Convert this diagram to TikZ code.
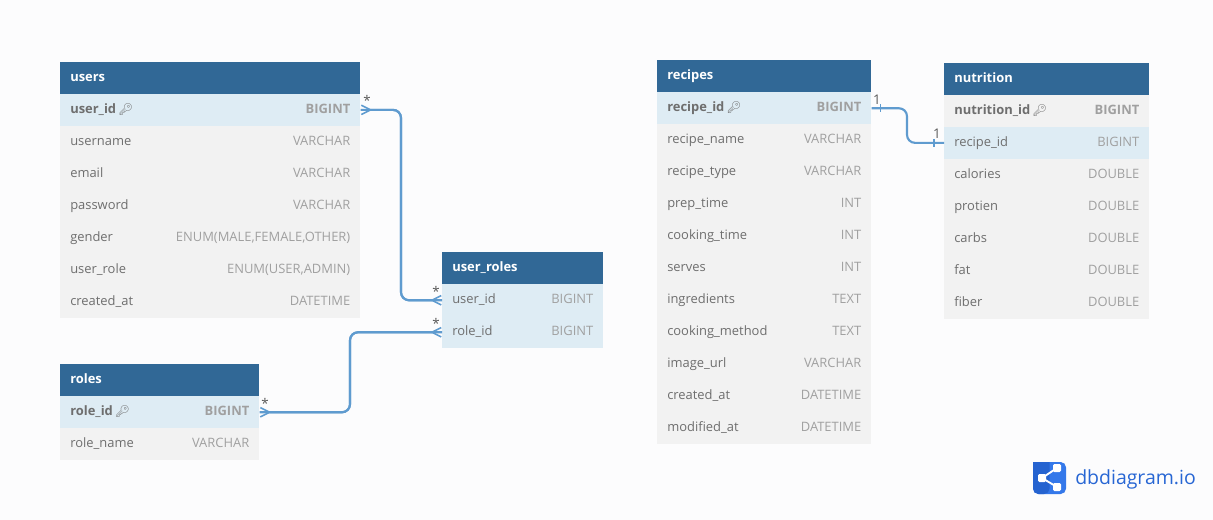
\documentclass[tikz,border=0pt]{standalone}
\usepackage{fontspec}
\usepackage{xcolor}
\usepackage{tikz}
\usetikzlibrary{arrows.meta,positioning,calc}
\setmainfont{Open Sans}
\newfontfamily\emojifont{Noto Emoji}
\definecolor{HeadBlue}{HTML}{316896}
\definecolor{RowBlue}{HTML}{DEECF4}
\definecolor{RowGray}{HTML}{F2F2F2}
\definecolor{NameGray}{HTML}{6E6E6E}
\definecolor{TypeGray}{HTML}{A0A0A0}
\definecolor{LinkBlue}{HTML}{5F9BCF}
\definecolor{PageWhite}{HTML}{FCFCFD}
\definecolor{LogoDark}{HTML}{2563D0}
\definecolor{LogoLight}{HTML}{3478EA}
\newcommand{\coltype}[1]{\hfill{\color{TypeGray}#1}}
\newcommand{\keyicon}{\,{\emojifont\fontsize{8.8}{10}\selectfont\symbol{"1F511}}}

\begin{document}
\begin{tikzpicture}[
  x=0.75pt, y=-0.75pt,
  tablehead/.style={rectangle, anchor=north west, fill=HeadBlue, text=white, inner xsep=7.5pt, inner ysep=0pt, minimum width=#1*0.75pt, minimum height=24pt, text width=#1*0.75pt-15pt, text height=7pt, text depth=2pt, font=\fontsize{9.7}{11}\selectfont\bfseries},
  rowgray/.style={rectangle, anchor=north west, fill=RowGray, text=NameGray, inner xsep=7.5pt, inner ysep=0pt, minimum width=#1*0.75pt, minimum height=24pt, text width=#1*0.75pt-15pt, text height=7pt, text depth=2pt, font=\fontsize{9.7}{11}\selectfont},
  rowblue/.style={rowgray=#1, fill=RowBlue},
  keyfont/.style={font=\fontsize{9.7}{11}\selectfont\bfseries},
  relline/.style={draw=LinkBlue, line width=1.6pt, rounded corners=6pt},
  relmany/.style={relline, <->, >={Straight Barb[reversed, length=7pt, width=7pt, line width=1.2pt]}},
  cardlabel/.style={inner sep=0pt, text=NameGray!80!black, font=\fontsize{10}{12}\selectfont}
]

\useasboundingbox[fill=PageWhite] (0,0) rectangle (1213,520);

% Table: users
\node[tablehead=300] (users) at (60,61.6) {users};
\node[rowblue=300, keyfont] (users_user_id) at (60,93.6) {user\_id\keyicon\coltype{BIGINT}};
\node[rowgray=300] (users_username) at (60,125.6) {username\coltype{VARCHAR}};
\node[rowgray=300] (users_email) at (60,157.6) {email\coltype{VARCHAR}};
\node[rowgray=300] (users_password) at (60,189.6) {password\coltype{VARCHAR}};
\node[rowgray=300] (users_gender) at (60,221.6) {gender\coltype{ENUM(MALE,FEMALE,OTHER)}};
\node[rowgray=300] (users_user_role) at (60,253.6) {user\_role\coltype{ENUM(USER,ADMIN)}};
\node[rowgray=300] (users_created_at) at (60,285.6) {created\_at\coltype{DATETIME}};

% Table: user_roles
\node[tablehead=161] (user_roles) at (442,252) {user\_roles};
\node[rowblue=161] (ur_user_id) at (442,284) {user\_id\coltype{BIGINT}};
\node[rowblue=161] (ur_role_id) at (442,316) {role\_id\coltype{BIGINT}};

% Table: roles
\node[tablehead=199] (roles) at (60,364) {roles};
\node[rowblue=199, keyfont] (roles_role_id) at (60,396) {role\_id\keyicon\coltype{BIGINT}};
\node[rowgray=199] (roles_role_name) at (60,428) {role\_name\coltype{VARCHAR}};

% Table: recipes
\node[tablehead=214] (recipes) at (657,60) {recipes};
\node[rowblue=214, keyfont] (recipes_recipe_id) at (657,92) {recipe\_id\keyicon\coltype{BIGINT}};
\node[rowgray=214] (recipes_name) at (657,124) {recipe\_name\coltype{VARCHAR}};
\node[rowgray=214] (recipes_type) at (657,156) {recipe\_type\coltype{VARCHAR}};
\node[rowgray=214] (recipes_prep) at (657,188) {prep\_time\coltype{INT}};
\node[rowgray=214] (recipes_cooking) at (657,220) {cooking\_time\coltype{INT}};
\node[rowgray=214] (recipes_serves) at (657,252) {serves\coltype{INT}};
\node[rowgray=214] (recipes_ingredients) at (657,284) {ingredients\coltype{TEXT}};
\node[rowgray=214] (recipes_method) at (657,316) {cooking\_method\coltype{TEXT}};
\node[rowgray=214] (recipes_image) at (657,348) {image\_url\coltype{VARCHAR}};
\node[rowgray=214] (recipes_created) at (657,380) {created\_at\coltype{DATETIME}};
\node[rowgray=214] (recipes_modified) at (657,412) {modified\_at\coltype{DATETIME}};

% Table: nutrition
\node[tablehead=205] (nutrition) at (944,62.6) {nutrition};
\node[rowgray=205, keyfont] (nutrition_id) at (944,94.6) {nutrition\_id\keyicon\coltype{BIGINT}};
\node[rowblue=205] (nutrition_recipe_id) at (944,126.6) {recipe\_id\coltype{BIGINT}};
\node[rowgray=205] (nutrition_calories) at (944,158.6) {calories\coltype{DOUBLE}};
\node[rowgray=205] (nutrition_protien) at (944,190.6) {protien\coltype{DOUBLE}};
\node[rowgray=205] (nutrition_carbs) at (944,222.6) {carbs\coltype{DOUBLE}};
\node[rowgray=205] (nutrition_fat) at (944,254.6) {fat\coltype{DOUBLE}};
\node[rowgray=205] (nutrition_fiber) at (944,286.6) {fiber\coltype{DOUBLE}};

% Connectors
\coordinate (bendusers) at (401,200);
\coordinate (bendroles) at (350,370);
\coordinate (bendrecipes) at (907,125);
\draw[relline] (users_user_id.east) -| (bendusers) |- (ur_user_id.west);
\draw[relline] (roles_role_id.east) -| (bendroles) |- (ur_role_id.west);
\draw[relmany] (users_user_id.east) -| (bendusers) |- (ur_user_id.west);
\draw[relmany] (roles_role_id.east) -| (bendroles) |- (ur_role_id.west);
\draw[relline] (recipes_recipe_id.east) -| (bendrecipes) |- (nutrition_recipe_id.west);

% One-to-one ticks
\coordinate (tickrecipes) at ($(recipes_recipe_id.east)+(9,0)$);
\coordinate (ticknutrition) at ($(nutrition_recipe_id.west)+(-10,0)$);
\draw[relline, line width=1pt] ([yshift=3pt]tickrecipes) -- ([yshift=-3pt]tickrecipes);
\draw[relline, line width=1pt] ([yshift=3pt]ticknutrition) -- ([yshift=-3pt]ticknutrition);

% Cardinality labels
\node[cardlabel] (card_users) at (367,100) {*};
\node[cardlabel] (card_ur_user) at (436,291) {*};
\node[cardlabel] (card_ur_role) at (436,323) {*};
\node[cardlabel] (card_roles) at (265,403) {*};
\node[cardlabel] (card_recipes) at (877,100) {1};
\node[cardlabel] (card_nutrition) at (937,134) {1};

% Logo
\fill[LogoLight, rounded corners=4pt] (1033,462) rectangle (1066,494);
\fill[LogoDark, rounded corners=4pt] (1033,462) -- (1033,494) -- (1049.5,494) [sharp corners] -- (1049.5,462) -- cycle;
\coordinate (logomid) at (1042,478);
\coordinate (logotop) at (1057,468);
\coordinate (logobottom) at (1057,487);
\draw[white, line width=1.4pt] (logotop) -- (logomid) -- (logobottom);
\fill[white, rounded corners=1pt] (1038,474) rectangle (1046,482);
\fill[white, rounded corners=1pt] (1053,464) rectangle (1061,472);
\fill[white, rounded corners=1pt] (1053,483) rectangle (1061,491);
\node[anchor=west, inner sep=0pt, text=LogoDark!85!LogoLight, font=\fontsize{14.6}{16}\selectfont] (logotext) at (1075,479.5) {dbdiagram.io};

\end{tikzpicture}
\end{document}
